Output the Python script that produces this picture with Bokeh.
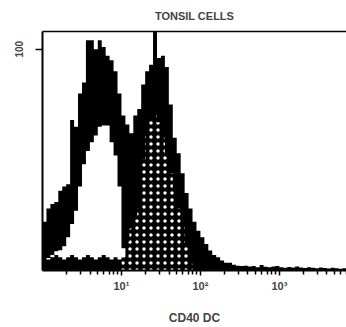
import numpy as np
from bokeh.plotting import figure
from bokeh.models import FixedTicker, ColumnDataSource, LinearAxis
from bokeh.embed import file_html
from bokeh.resources import INLINE

# histogram bins: log10 fluorescence decades, bin width 0.05
bin_width = 0.05
# total stained histogram (black)
black_counts = [22, 28, 30, 31, 36, 38, 39, 68, 65, 80, 85, 104, 104, 100, 104, 101, 97, 95,
                90, 80, 70, 66, 62, 70, 73, 84, 90, 93, 108, 96, 97, 92, 75, 60, 53, 44, 35, 28,
                22, 18, 15, 12, 9, 7, 6, 4.5, 3.5, 3.5, 2.6, 2.2,
                2.0, 2.2, 1.8, 2.0, 1.5, 2.5, 1.7, 1.5, 1.8, 2.0, 1.5, 1.2, 1.6, 1.4, 1.8, 1.3,
                1.1, 1.5, 1.2, 1.0, 1.3, 1.1, 0.9, 1.2, 1.0, 0.8, 1.0]
black_start = 0
# control histogram (white), drawn between a low floor and its top
white_counts = [5.7, 7, 8.7, 9.2, 11, 15, 21, 27, 38, 48, 54, 58, 61, 65, 65.5, 65.5, 58, 52, 38, 10]
white_floor = [5, 6, 7, 6, 5, 6, 7, 6, 5, 6, 7, 6, 5, 6, 7, 6, 5, 6, 5, 6]
white_start = 1
# stippled histogram
dot_counts = [1, 6, 13, 19, 24, 28, 50, 62, 68, 70, 67, 60, 53, 44, 36, 28, 21, 12, 3]
dot_start = 19

x_ticks = [1, 2, 3]
x_tick_labels = {1: "10\u00b9", 2: "10\u00b2", 3: "10\u00b3"}
y_ticks = [100]
y_tick_labels = {100: "100"}
title_text = "TONSIL CELLS"
x_label = "CD40 DC"
x_lo, x_hi = 0, 3.85
y_lo, y_hi = 0, 108


def src(counts, start, floor=None):
    xs = [(start + i) * bin_width for i in range(len(counts) + 1)]
    ys = list(counts) + [counts[-1]]
    if floor is None:
        fl = [0] * len(xs)
    else:
        fl = list(floor) + [floor[-1]]
    return ColumnDataSource(dict(x=xs, y1=fl, y2=ys))


p = figure(width=346, height=327, output_backend="svg", toolbar_location=None,
           x_range=(x_lo, x_hi), y_range=(y_lo, y_hi),
           min_border_left=42, min_border_right=0, min_border_top=31, min_border_bottom=49)
p.grid.visible = False
p.outline_line_color = None
p.background_fill_color = "white"

xa = p.below[0]
ya = p.left[0]

p.varea_step(x="x", y1="y1", y2="y2", step_mode="after", source=src(black_counts, black_start),
             fill_color="black")
p.varea_step(x="x", y1="y1", y2="y2", step_mode="after",
             source=src(white_counts, white_start, white_floor), fill_color="white")
p.varea_step(x="x", y1="y1", y2="y2", step_mode="after", source=src(dot_counts, dot_start),
             fill_color="black", fill_alpha=0,
             hatch_pattern="dot", hatch_color="white", hatch_scale=7, hatch_weight=0.7)

# top frame line carrying the title
top = LinearAxis(ticker=FixedTicker(ticks=[], minor_ticks=[]), axis_label=title_text)
top.axis_line_width = 1.5
top.major_tick_line_color = None
top.minor_tick_line_color = None
top.major_tick_in = 0
top.major_tick_out = 0
top.major_label_text_color = None
top.major_label_text_font_size = "0px"
top.major_label_standoff = 0
top.axis_label_standoff = 10
top.axis_label_text_font = "Liberation Sans"
top.axis_label_text_font_size = "11px"
top.axis_label_text_font_style = "bold"
p.add_layout(top, "above")

minor = []
for d in range(0, 4):
    for k in range(2, 10):
        v = d + np.log10(k)
        if v < x_hi:
            minor.append(float(v))

xa.ticker = FixedTicker(ticks=x_ticks, minor_ticks=minor)
xa.major_label_overrides = x_tick_labels
xa.axis_line_width = 2
xa.major_tick_in = 0
xa.major_tick_out = 5
xa.minor_tick_in = 0
xa.minor_tick_out = 4
xa.major_tick_line_width = 1.5
xa.minor_tick_line_width = 1.5
xa.major_label_text_font = "Liberation Sans"
xa.major_label_text_font_style = "bold"
xa.major_label_text_font_size = "11px"
xa.major_label_standoff = 4
xa.axis_label = x_label
xa.axis_label_text_font = "Liberation Sans"
xa.axis_label_text_font_style = "bold"
xa.axis_label_text_font_size = "12px"
xa.axis_label_standoff = 16

ya.ticker = FixedTicker(ticks=y_ticks, minor_ticks=[])
ya.major_label_overrides = y_tick_labels
ya.axis_line_width = 2
ya.major_tick_in = 0
ya.major_tick_out = 7
ya.major_tick_line_width = 1.5
ya.minor_tick_line_color = None
ya.major_label_orientation = "vertical"
ya.major_label_text_font = "Liberation Sans"
ya.major_label_text_font_style = "bold"
ya.major_label_text_font_size = "10px"
ya.major_label_standoff = 12

open("out.html", "w").write(file_html(p, INLINE))
